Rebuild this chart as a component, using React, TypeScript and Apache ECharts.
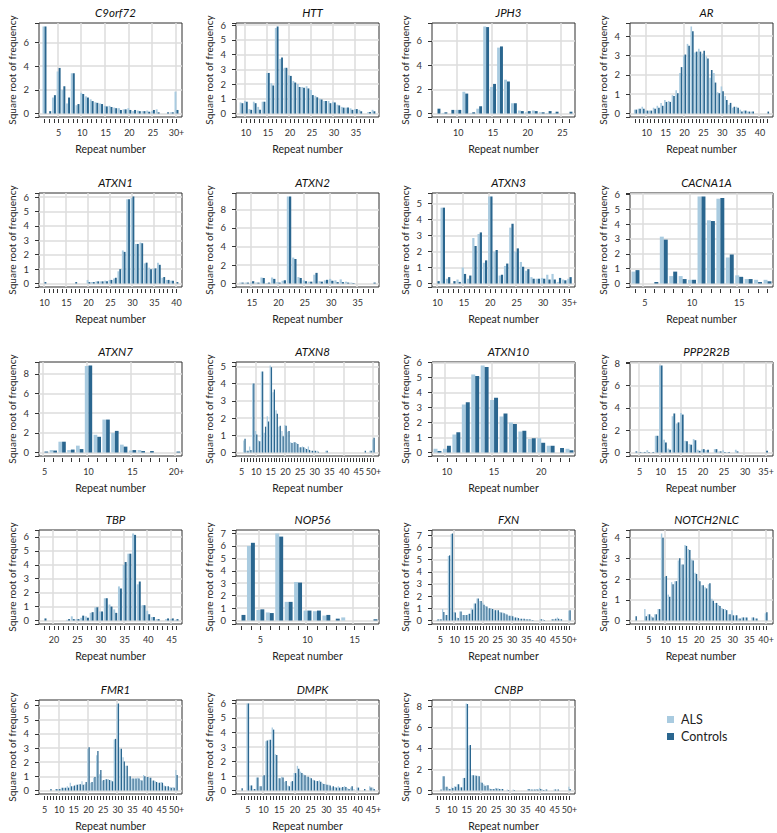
import React, { useEffect, useRef } from 'react';
import * as echarts from 'echarts';

const FONT = 'Lato, "Open Sans", sans-serif';
const ALS_COLOR = '#a9cbe0';
const CTRL_COLOR = '#2a668f';
const GRID_LINE = '#dcdcdc';
const AXIS_COLOR = '#333333';

// repeat-number categories (last one may be an open "N+" bin)
function repeats(start: number, end: number, plusLast: boolean): string[] {
  const out: string[] = [];
  for (let v = start; v <= end; v++) out.push(v === end && plusLast ? `${v}+` : String(v));
  return out;
}

// ---------- data (square root of frequency) ----------
const C9ORF72_REPEATS = repeats(2, 30, true);
const C9ORF72_ALS = [7.35, 0, 1.35, 3.55, 2.0, 0.85, 3.4, 0.7, 1.75, 1.45, 1.2, 0.95, 0.85, 0.65, 0.65, 0.5, 0.45, 0.35, 0.45, 0.2, 0.25, 0.2, 0.25, 0.2, 0.35, 0, 0, 0.1, 1.85];
const C9ORF72_CONTROLS = [7.35, 0.2, 1.55, 3.85, 2.3, 1.35, 3.4, 0.8, 1.65, 1.35, 1.05, 0.9, 0.8, 0.6, 0.55, 0.45, 0.3, 0.35, 0.3, 0.3, 0.2, 0.2, 0.15, 0.3, 0.1, 0, 0.1, 0.1, 0.3];

const HTT_REPEATS = repeats(9, 39, false);
const HTT_ALS = [0.75, 0.85, 0.3, 0.8, 0.45, 0.8, 2.75, 2.05, 5.8, 3.7, 3.1, 2.6, 2.2, 2.0, 1.8, 1.85, 1.6, 1.2, 1.0, 0.85, 0.85, 0.8, 0.6, 0.45, 0.4, 0.35, 0.3, 0.25, 0, 0.1, 0.25];
const HTT_CONTROLS = [0.7, 0.8, 0.25, 0.7, 0.25, 0.8, 2.75, 1.9, 5.9, 3.8, 3.1, 2.55, 2.1, 1.8, 1.75, 1.7, 1.25, 1.1, 0.95, 0.85, 0.7, 0.75, 0.55, 0.4, 0.4, 0.25, 0.3, 0.15, 0, 0.1, 0.15];

const JPH3_REPEATS = repeats(7, 26, false);
const JPH3_ALS = [0, 0.05, 0, 0.3, 1.8, 0.05, 0.4, 7.2, 2.2, 5.45, 2.8, 0.85, 0.25, 0.1, 0.25, 0.1, 0.05, 0.05, 0, 0];
const JPH3_CONTROLS = [0.4, 0.1, 0.3, 0.3, 1.65, 0.1, 0.6, 7.15, 2.45, 5.55, 2.65, 0.85, 0.2, 0.2, 0.2, 0.1, 0.2, 0.15, 0, 0.15];

const AR_REPEATS = repeats(7, 42, false);
const AR_ALS = [0.2, 0.25, 0.35, 0.15, 0.15, 0.3, 0.4, 0.55, 0.7, 0.65, 0.95, 1.2, 2.1, 3.0, 3.6, 4.5, 3.15, 3.35, 3.1, 2.95, 1.85, 2.1, 1.1, 1.4, 0.9, 0.45, 0.3, 0.35, 0.2, 0.15, 0.1, 0.1, 0, 0, 0, 0];
const AR_CONTROLS = [0.2, 0.25, 0.25, 0.15, 0.15, 0.25, 0.3, 0.4, 0.6, 0.6, 0.9, 1.05, 2.4, 3.05, 3.5, 4.25, 3.2, 3.2, 3.25, 2.85, 2.25, 1.6, 1.05, 1.15, 0.7, 0.55, 0.35, 0.3, 0.1, 0.15, 0.1, 0.1, 0, 0, 0, 0.1];

const ATXN1_REPEATS = repeats(10, 40, false);
const ATXN1_ALS = [0, 0, 0, 0, 0, 0, 0, 0, 0, 0, 0.25, 0.1, 0.15, 0.15, 0.2, 0.25, 0.35, 0.85, 2.3, 5.85, 5.95, 2.75, 2.85, 1.4, 1.1, 1.05, 1.45, 0.4, 0.25, 0.2, 0];
const ATXN1_CONTROLS = [0.1, 0, 0, 0, 0, 0, 0, 0.1, 0, 0, 0.1, 0.1, 0.15, 0.15, 0.15, 0.25, 0.4, 1.0, 2.2, 5.85, 6.05, 2.75, 2.8, 1.45, 1.0, 1.05, 1.3, 0.45, 0.25, 0.2, 0.1];

const ATXN2_REPEATS = repeats(13, 38, false);
const ATXN2_ALS = [0.1, 0.1, 0.1, 0.1, 0.65, 0.05, 0.65, 0.15, 0.3, 9.4, 2.8, 0.7, 0.35, 0.2, 0.95, 0.25, 0.35, 0.5, 0.35, 0.45, 0.2, 0.1, 0, 0, 0, 0];
const ATXN2_CONTROLS = [0.1, 0.1, 0.25, 0.1, 0.6, 0.1, 0.5, 0.1, 0.35, 9.4, 2.65, 0.6, 0.25, 0.2, 1.15, 0.2, 0.4, 0.3, 0.15, 0.15, 0.1, 0.05, 0, 0, 0, 0.1];

const ATXN3_REPEATS = repeats(10, 35, true);
const ATXN3_ALS = [0, 4.75, 0.3, 0, 0.25, 1.0, 0.3, 2.85, 3.1, 1.3, 5.45, 2.0, 0.5, 1.1, 3.5, 2.0, 1.35, 0.8, 0.4, 0.3, 0.35, 0.55, 0.6, 0.1, 0.25, 0.3];
const ATXN3_CONTROLS = [0.15, 4.75, 0.4, 0.15, 0.1, 0.6, 0.5, 2.35, 3.2, 1.45, 5.45, 2.1, 0.55, 1.25, 3.75, 2.2, 1.05, 0.9, 0.3, 0.3, 0.3, 0.25, 0.25, 0.35, 0.2, 0.4];

const CACNA1A_REPEATS = repeats(4, 18, false);
const CACNA1A_ALS = [0.8, 0, 0, 3.15, 0.5, 0.5, 0.25, 5.85, 4.25, 5.7, 1.75, 0.55, 0.3, 0.25, 0.25];
const CACNA1A_CONTROLS = [0.9, 0, 0.1, 2.95, 0.8, 0.3, 0.25, 5.85, 4.2, 5.75, 1.95, 0.45, 0.3, 0.1, 0.15];

const ATXN7_REPEATS = repeats(5, 20, true);
const ATXN7_ALS = [0, 0.25, 1.1, 0.25, 0.7, 8.8, 1.8, 3.35, 2.0, 0.8, 0.2, 0.25, 0, 0, 0, 0];
const ATXN7_CONTROLS = [0.1, 0.2, 1.1, 0.3, 0.35, 8.85, 1.6, 3.35, 2.2, 0.6, 0.25, 0.15, 0.15, 0, 0, 0.1];

const ATXN8_REPEATS = repeats(5, 50, true);
const ATXN8_ALS = [0, 0.7, 0.1, 0.35, 4.0, 1.25, 0.7, 4.7, 1.15, 2.1, 5.05, 3.5, 2.45, 1.5, 1.25, 1.6, 1.2, 0.6, 0.6, 0.55, 0.3, 0.35, 0.25, 0.35, 0.1, 0.1, 0.1, 0, 0, 0.1, 0, 0, 0, 0, 0, 0, 0, 0, 0, 0, 0, 0, 0, 0, 0.1, 0.75];
const ATXN8_CONTROLS = [0, 0.8, 0.1, 0.15, 4.0, 1.05, 0.65, 4.7, 1.5, 1.8, 4.95, 3.65, 2.25, 1.55, 0.95, 1.55, 1.25, 0.55, 0.6, 0.5, 0.3, 0.3, 0.2, 0.15, 0.1, 0.1, 0.05, 0, 0, 0.1, 0, 0, 0, 0, 0, 0, 0, 0, 0, 0, 0, 0, 0.1, 0, 0.1, 0.85];

const ATXN10_REPEATS = repeats(9, 23, false);
const ATXN10_ALS = [0.25, 0.25, 1.2, 3.2, 5.2, 5.8, 3.5, 2.4, 2.0, 1.4, 0.9, 0.95, 0.45, 0, 0.25];
const ATXN10_CONTROLS = [0.1, 0.45, 1.35, 3.35, 5.1, 5.7, 3.65, 2.6, 1.9, 1.45, 0.95, 0.65, 0.45, 0.3, 0.15];

const PPP2R2B_REPEATS = repeats(4, 35, true);
const PPP2R2B_ALS = [0, 0.05, 0.05, 0.2, 0, 1.5, 7.8, 1.15, 0.35, 3.25, 2.6, 3.55, 1.05, 0.75, 1.2, 0.25, 0.3, 0.2, 0, 0.3, 0.1, 0.2, 0.05, 0, 0.25, 0, 0, 0, 0, 0, 0, 0];
const PPP2R2B_CONTROLS = [0.1, 0.05, 0.05, 0.05, 0.05, 1.5, 7.8, 0.9, 0.25, 3.5, 2.7, 3.4, 1.0, 0.7, 1.1, 0.15, 0.3, 0.25, 0, 0.3, 0.1, 0.05, 0.05, 0, 0.1, 0, 0, 0, 0, 0, 0, 0.15];

const TBP_REPEATS = repeats(18, 46, false);
const TBP_ALS = [0, 0, 0, 0, 0, 0.05, 0.3, 0.1, 0.2, 0.3, 0.55, 0.95, 0.65, 1.6, 1.15, 0.8, 2.45, 4.0, 4.8, 6.25, 2.6, 1.1, 0.7, 0.25, 0.1, 0, 0.1, 0.1, 0.05];
const TBP_CONTROLS = [0.15, 0, 0, 0, 0, 0.1, 0.1, 0.1, 0.35, 0.2, 0.6, 0.95, 0.65, 1.6, 1.0, 0.55, 2.3, 4.2, 4.8, 6.15, 2.8, 1.1, 0.45, 0.25, 0.1, 0, 0.15, 0.15, 0.1];

const NOP56_REPEATS = repeats(3, 17, false);
const NOP56_ALS = [0, 6.0, 0.85, 0.65, 7.0, 1.5, 3.1, 0.8, 0.75, 0.4, 0, 0.25, 0, 0, 0];
const NOP56_CONTROLS = [0.45, 6.25, 0.9, 0.6, 6.75, 1.5, 3.05, 0.8, 0.8, 0.45, 0.15, 0, 0, 0, 0.1];

const FXN_REPEATS = repeats(4, 50, true);
const FXN_ALS = [0.05, 0.1, 0.95, 0.45, 5.3, 7.1, 0.7, 0.25, 0.75, 0.45, 0.45, 0.55, 1.0, 1.4, 1.8, 1.6, 1.45, 1.2, 1.0, 1.0, 0.85, 0.85, 0.7, 0.65, 0.55, 0.4, 0.4, 0.25, 0.25, 0.15, 0.15, 0.1, 0.1, 0.05, 0, 0, 0.1, 0.1, 0, 0, 0.1, 0.1, 0.25, 0.1, 0, 0, 0.8];
const FXN_CONTROLS = [0.1, 0.1, 0.7, 0.45, 5.35, 7.15, 0.65, 0.2, 0.75, 0.45, 0.45, 0.55, 0.9, 1.4, 1.8, 1.6, 1.3, 1.15, 1.0, 0.95, 0.85, 0.85, 0.65, 0.6, 0.5, 0.4, 0.35, 0.25, 0.2, 0.15, 0.15, 0.1, 0.1, 0.05, 0, 0, 0.1, 0.05, 0, 0, 0.1, 0.15, 0.15, 0.1, 0, 0, 0.85];

const NOTCH2NLC_REPEATS = repeats(1, 40, true);
const NOTCH2NLC_ALS = [0, 0, 0, 0.55, 0.3, 0.2, 0.3, 0.55, 4.2, 2.1, 1.25, 1.85, 1.9, 2.9, 2.7, 3.65, 3.45, 2.95, 2.3, 1.95, 1.7, 1.6, 1.75, 1.05, 0.85, 0.75, 0.6, 0.55, 0.3, 0.5, 0.25, 0.1, 0.15, 0.15, 0, 0.15, 0.1, 0, 0, 0.35];
const NOTCH2NLC_CONTROLS = [0.2, 0, 0, 0.2, 0.3, 0.15, 0.3, 0.55, 4.0, 2.15, 1.15, 1.75, 1.9, 3.0, 2.7, 3.6, 3.4, 2.9, 2.25, 1.9, 1.7, 1.55, 1.8, 0.95, 0.85, 0.7, 0.55, 0.5, 0.3, 0.25, 0.25, 0.1, 0.15, 0.15, 0, 0.15, 0.1, 0, 0, 0.4];

const FMR1_REPEATS = repeats(5, 50, true);
const FMR1_ALS = [0, 0, 0, 0, 0.1, 0.1, 0.2, 0.2, 0.3, 0.55, 0.3, 0.4, 0.45, 0.65, 0.45, 2.95, 0.55, 0.9, 2.5, 1.15, 0.7, 0.8, 0.8, 0.7, 3.6, 6.1, 2.95, 2.35, 1.75, 1.0, 0.85, 0.85, 0.9, 0.75, 1.1, 0.95, 0.9, 0.7, 0.65, 0.55, 0.6, 0.35, 0.3, 0.25, 0.25, 1.45];
const FMR1_CONTROLS = [0, 0, 0.1, 0, 0.1, 0.1, 0.2, 0.2, 0.2, 0.3, 0.35, 0.4, 0.45, 0.4, 0.6, 3.05, 0.6, 0.95, 2.8, 1.45, 0.75, 0.8, 0.75, 0.65, 3.65, 6.15, 2.95, 2.05, 1.75, 1.0, 0.85, 0.85, 0.85, 0.7, 1.0, 0.95, 0.9, 0.7, 0.6, 0.55, 0.55, 0.3, 0.3, 0.2, 0.2, 1.1];

const DMPK_REPEATS = repeats(3, 45, true);
const DMPK_ALS = [0, 0, 6.0, 0.35, 0.1, 0.9, 0.3, 1.0, 3.4, 3.5, 4.35, 2.5, 0.85, 0.95, 0.6, 0.35, 0.6, 1.2, 1.7, 1.3, 1.1, 0.95, 0.9, 0.75, 0.65, 0.7, 0.5, 0.45, 0.4, 0.2, 0.25, 0.3, 0.2, 0.3, 0.15, 0.2, 0.1, 0.2, 0, 0, 0, 0.3, 0.2];
const DMPK_CONTROLS = [0.15, 0, 6.0, 0.35, 0.1, 0.9, 0.3, 1.05, 3.45, 3.5, 4.2, 2.45, 0.85, 0.9, 0.65, 0.3, 0.65, 1.2, 1.5, 1.2, 1.05, 0.95, 0.85, 0.7, 0.65, 0.6, 0.45, 0.4, 0.35, 0.3, 0.2, 0.2, 0.25, 0.25, 0.1, 0.3, 0, 0.2, 0, 0.1, 0, 0.2, 0.1];

const CNBP_REPEATS = repeats(5, 50, true);
const CNBP_ALS = [0, 0, 1.35, 0.35, 0.2, 0.3, 0.4, 0.6, 0.3, 1.2, 8.3, 4.3, 1.45, 1.45, 1.4, 0.8, 0.6, 0.5, 0.2, 0.15, 0.25, 0.2, 0.15, 0, 0.1, 0, 0.1, 0, 0, 0, 0, 0.15, 0.1, 0.1, 0.15, 0.25, 0.1, 0.1, 0, 0, 0.1, 0.1, 0, 0, 0, 0.35];
const CNBP_CONTROLS = [0, 0.1, 1.35, 0.35, 0.15, 0.25, 0.35, 0.6, 0.3, 1.2, 8.25, 4.35, 1.45, 1.4, 1.35, 0.75, 0.45, 0.5, 0.15, 0.15, 0.2, 0.15, 0.15, 0, 0.05, 0, 0.05, 0, 0, 0, 0, 0.15, 0.1, 0.1, 0.1, 0.15, 0.05, 0.1, 0, 0, 0.1, 0.1, 0, 0, 0, 0.15];

// gene titles, y tick steps and vertical grid steps
const GENES = ['C9orf72', 'HTT', 'JPH3', 'AR', 'ATXN1', 'ATXN2', 'ATXN3', 'CACNA1A', 'ATXN7', 'ATXN8', 'ATXN10', 'PPP2R2B', 'TBP', 'NOP56', 'FXN', 'NOTCH2NLC', 'FMR1', 'DMPK', 'CNBP'];
const Y_STEPS = [2, 1, 2, 1, 1, 2, 1, 1, 2, 1, 1, 2, 1, 1, 1, 1, 1, 1, 2];
const GRID_STEPS = [5, 5, 5, 10, 5, 5, 5, 5, 5, 10, 5, 5, 5, 5, 10, 10, 10, 10, 10];
const LABEL_STEP = 5;

const PANEL_REPEATS = [C9ORF72_REPEATS, HTT_REPEATS, JPH3_REPEATS, AR_REPEATS, ATXN1_REPEATS, ATXN2_REPEATS, ATXN3_REPEATS, CACNA1A_REPEATS, ATXN7_REPEATS, ATXN8_REPEATS, ATXN10_REPEATS, PPP2R2B_REPEATS, TBP_REPEATS, NOP56_REPEATS, FXN_REPEATS, NOTCH2NLC_REPEATS, FMR1_REPEATS, DMPK_REPEATS, CNBP_REPEATS];
const PANEL_ALS = [C9ORF72_ALS, HTT_ALS, JPH3_ALS, AR_ALS, ATXN1_ALS, ATXN2_ALS, ATXN3_ALS, CACNA1A_ALS, ATXN7_ALS, ATXN8_ALS, ATXN10_ALS, PPP2R2B_ALS, TBP_ALS, NOP56_ALS, FXN_ALS, NOTCH2NLC_ALS, FMR1_ALS, DMPK_ALS, CNBP_ALS];
const PANEL_CONTROLS = [C9ORF72_CONTROLS, HTT_CONTROLS, JPH3_CONTROLS, AR_CONTROLS, ATXN1_CONTROLS, ATXN2_CONTROLS, ATXN3_CONTROLS, CACNA1A_CONTROLS, ATXN7_CONTROLS, ATXN8_CONTROLS, ATXN10_CONTROLS, PPP2R2B_CONTROLS, TBP_CONTROLS, NOP56_CONTROLS, FXN_CONTROLS, NOTCH2NLC_CONTROLS, FMR1_CONTROLS, DMPK_CONTROLS, CNBP_CONTROLS];

// ---------- layout ----------
const COL_LEFT = [39, 236, 432, 630];
const ROW_TOP = [23, 193, 362, 530, 700];
const BOX_W = 143;
const BOX_H = 94;
const X_INSET = 5.5; // horizontal padding between the frame and the first/last repeat

function buildOption() {
  const grid: any[] = [];
  const xAxis: any[] = [];
  const yAxis: any[] = [];
  const series: any[] = [];
  const title: any[] = [];

  GENES.forEach((gene, i) => {
    const row = Math.floor(i / 4);
    const col = i % 4;
    const left = COL_LEFT[col];
    const top = ROW_TOP[row];
    const cats = PANEL_REPEATS[i];
    const als = PANEL_ALS[i];
    const ctrl = PANEL_CONTROLS[i];
    const yStep = Y_STEPS[i];
    const gStep = GRID_STEPS[i];
    const dmax = Math.max(...als, ...ctrl);
    const pad = dmax * 0.04;
    const yMin = -pad;
    const yMax = dmax + pad;
    const splitNumber = Math.max(1, Math.round((yMax - yMin) / yStep));

    const labelCats = new Set(cats.filter((c) => parseInt(c, 10) % LABEL_STEP === 0));
    const gridCats = cats.filter((c) => parseInt(c, 10) % gStep === 0);

    const outer = 2 * i;
    const inner = 2 * i + 1;

    // outer frame: y axis, horizontal grid lines, box
    grid.push({
      left, top, width: BOX_W, height: BOX_H,
      show: true, borderColor: '#2e2e2e', borderWidth: 1, backgroundColor: 'transparent',
      containLabel: false,
    });
    // inner plotting area for the bars
    grid.push({
      left: left + X_INSET, top, width: BOX_W - 2 * X_INSET, height: BOX_H,
      show: false, containLabel: false,
    });

    title.push({
      text: gene,
      left: left + BOX_W / 2,
      top: top - 22,
      textAlign: 'center',
      textStyle: { fontSize: 11.5, fontStyle: 'italic', fontWeight: 'normal', color: '#111', fontFamily: FONT },
    });

    // outer: hidden x, visible y
    xAxis.push({ gridIndex: outer, type: 'value', min: 0, max: 1, show: false });
    yAxis.push({
      gridIndex: outer,
      type: 'value',
      min: yMin,
      max: yMax,
      splitNumber,
      minInterval: yStep,
      maxInterval: yStep,
      offset: 2,
      axisLine: { show: false },
      axisTick: { show: true, length: 4, lineStyle: { color: AXIS_COLOR, width: 1 } },
      axisLabel: {
        fontSize: 9.5, color: '#333', margin: 8, fontFamily: FONT,
        formatter: (v: number) => {
          const k = v / yStep;
          return Math.abs(k - Math.round(k)) < 1e-6 ? String(Math.round(v)) : '';
        },
      },
      splitLine: { show: true, showMinLine: false, showMaxLine: false, lineStyle: { color: GRID_LINE, width: 1.5 } },
      name: 'Square root of frequency',
      nameLocation: 'middle',
      nameGap: 20,
      nameTextStyle: { fontSize: 10, color: '#222', fontFamily: FONT },
    });

    // inner: visible category x, hidden y
    xAxis.push({
      gridIndex: inner,
      type: 'category',
      data: cats,
      boundaryGap: false,
      offset: 2,
      axisLine: { show: false, onZero: false },
      axisTick: { show: true, alignWithLabel: true, interval: 0, length: 4, lineStyle: { color: AXIS_COLOR, width: 1 } },
      axisLabel: {
        interval: (_idx: number, val: string) => labelCats.has(val),
        fontSize: 9, color: '#333', margin: 9, fontFamily: FONT,
      },
      splitLine: { show: false },
      name: 'Repeat number',
      nameLocation: 'middle',
      nameGap: 24,
      nameTextStyle: { fontSize: 10.5, color: '#222', fontFamily: FONT },
    });
    yAxis.push({ gridIndex: inner, type: 'value', min: yMin, max: yMax, show: false, splitLine: { show: false } });

    series.push({
      type: 'bar',
      name: 'ALS',
      xAxisIndex: inner,
      yAxisIndex: inner,
      data: als,
      itemStyle: { color: ALS_COLOR },
      barGap: '0%',
      barCategoryGap: '16%',
      silent: true,
      markLine: {
        silent: true,
        z: 1,
        symbol: ['none', 'none'],
        label: { show: false },
        lineStyle: { color: GRID_LINE, width: 1.5, type: 'solid' },
        data: gridCats.map((c) => ({ xAxis: c })),
      },
    });
    series.push({
      type: 'bar',
      name: 'Controls',
      xAxisIndex: inner,
      yAxisIndex: inner,
      data: ctrl,
      itemStyle: { color: CTRL_COLOR },
      barGap: '0%',
      barCategoryGap: '16%',
      silent: true,
    });
  });

  return {
    animation: false,
    backgroundColor: '#ffffff',
    textStyle: { fontFamily: FONT },
    title,
    grid,
    xAxis,
    yAxis,
    series,
    legend: {
      data: ['ALS', 'Controls'],
      orient: 'vertical',
      left: 667,
      top: 713,
      padding: 0,
      itemWidth: 7,
      itemHeight: 7,
      itemGap: 4,
      icon: 'rect',
      selectedMode: false,
      textStyle: { fontSize: 12.5, color: '#222', fontFamily: FONT, padding: [0, 0, 0, 2] },
    },
  };
}

export default function App() {
  const ref = useRef<HTMLDivElement>(null);
  useEffect(() => {
    if (!ref.current) return;
    const chart = echarts.init(ref.current, undefined, { renderer: 'svg' });
    chart.setOption(buildOption() as any);
    return () => chart.dispose();
  }, []);
  return (
    <div
      ref={ref}
      style={{ position: 'absolute', left: 0, top: 0, width: 777, height: 833, background: '#fff' }}
    />
  );
}
